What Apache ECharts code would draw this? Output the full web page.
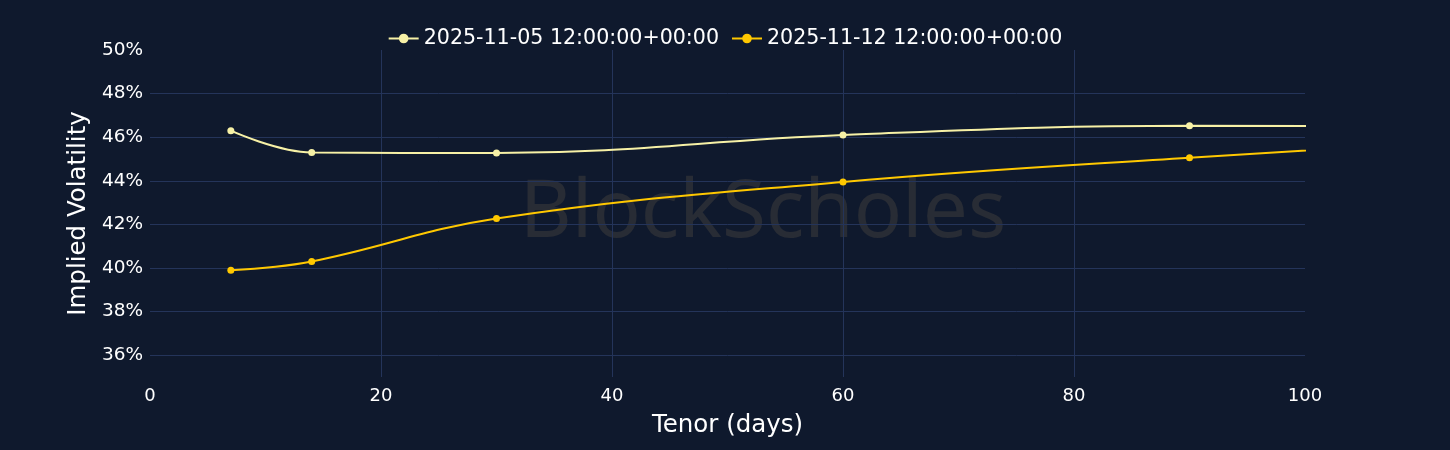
<!DOCTYPE html>
<html>
<head>
<meta charset="utf-8">
<script src="https://cdn.jsdelivr.net/npm/echarts@6/dist/echarts.min.js"></script>
<style>html,body{margin:0;padding:0;background:#0f192d;}#c{width:1450px;height:450px;}</style>
</head>
<body>
<div id="c"></div>
<script>
const seriesNames = ['2025-11-05 12:00:00+00:00', '2025-11-12 12:00:00+00:00'];
const tenors = [7, 14, 30, 60, 90, 180];
const vol1105 = [46.3, 45.3, 45.27, 46.1, 46.52, 46.4];
const vol1112 = [39.9, 40.3, 42.27, 43.95, 45.06, 48.0];
const yGridValues = [36, 38, 40, 42, 44, 46, 48];

const font = 'DejaVu Sans, Verdana, sans-serif';
const chart = echarts.init(document.getElementById('c'));
const mk = (vals) => tenors.map((t, i) => [t, vals[i]]);
chart.setOption({
  backgroundColor: '#0f192d',
  animation: false,
  textStyle: { fontFamily: font },
  graphic: [{
    type: 'text', x: 763, y: 214, z: 0,
    style: { text: 'BlockScholes', fontFamily: 'Noto Sans, sans-serif', fontSize: 80,
      fill: '#282c35', align: 'center', verticalAlign: 'middle' }
  }],
  legend: {
    top: 23, left: 'center', itemWidth: 30, itemHeight: 12, itemGap: 12,
    textStyle: { color: '#ffffff', fontSize: 20.6, fontFamily: font },
    data: seriesNames
  },
  grid: { left: 150, right: 145, top: 50, bottom: 73 },
  xAxis: {
    type: 'value', min: 0, max: 100, interval: 20,
    name: 'Tenor (days)', nameLocation: 'middle', nameGap: 36,
    nameTextStyle: { color: '#ffffff', fontSize: 24.5, fontFamily: font },
    axisLine: { show: false }, axisTick: { show: false },
    axisLabel: { color: '#ffffff', fontSize: 18, margin: 10, fontFamily: font },
    splitLine: { show: true, showMinLine: false, showMaxLine: false, lineStyle: { color: '#24345a', width: 1 } }
  },
  yAxis: {
    type: 'value', min: 35, max: 50, interval: 1,
    name: 'Implied Volatility', nameLocation: 'middle', nameGap: 59,
    nameTextStyle: { color: '#ffffff', fontSize: 24.5, fontFamily: font },
    axisLine: { show: false }, axisTick: { show: false },
    axisLabel: { color: '#ffffff', fontSize: 18.5, margin: 7, fontFamily: font,
      formatter: v => (v % 2 === 0 ? v + '%' : '') },
    splitLine: { show: false }
  },
  series: [
    {
      name: seriesNames[0], type: 'line', data: mk(vol1105), smooth: 0.4, clip: true,
      symbol: 'circle', symbolSize: 7, z: 3,
      itemStyle: { color: '#f7f1a6' }, lineStyle: { color: '#f7f1a6', width: 2 },
      markLine: {
        silent: true, symbol: 'none', label: { show: false }, z: 1,
        lineStyle: { color: '#24345a', width: 1, type: 'solid' },
        data: yGridValues.map(v => ({ yAxis: v }))
      }
    },
    {
      name: seriesNames[1], type: 'line', data: mk(vol1112), smooth: 0.4, clip: true,
      symbol: 'circle', symbolSize: 7, z: 3,
      itemStyle: { color: '#ffc800' }, lineStyle: { color: '#ffc800', width: 2 }
    }
  ]
});
</script>
</body>
</html>
